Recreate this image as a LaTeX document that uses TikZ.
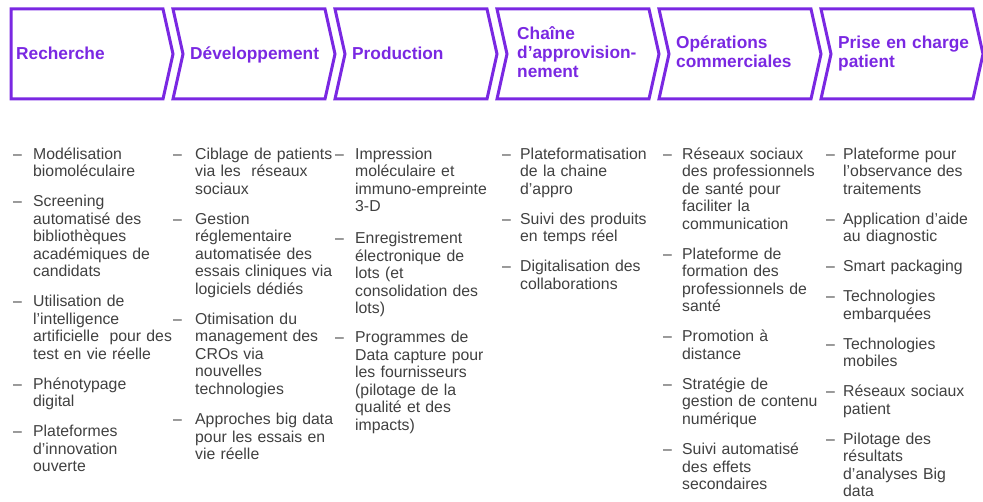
\documentclass[tikz,border=0pt]{standalone}
\usepackage{fontspec}
\setmainfont{Liberation Sans}
\definecolor{vio}{RGB}{122,40,226}
\definecolor{txt}{RGB}{64,64,64}
\tikzset{
 chev/.style={draw=vio, line width=3pt, line join=miter},
 head/.style={anchor=base west, inner sep=0pt, text width=150pt, align=left, text=vio, font=\fontsize{17.3}{19}\selectfont\bfseries},
 item/.style={anchor=base west, inner sep=0pt, text width=160pt, align=left, text=txt, font=\fontsize{15.8}{17.5}\selectfont},
 dashmark/.style={anchor=base west, inner sep=0pt, text=txt, font=\fontsize{15.8}{17.5}\selectfont},
}
\newcommand\itm[5]{\node[dashmark] (#1d) at ({#2-#4},#3) {–}; \node[item] (#1) at (#2,#3) {#5};}
\begin{document}
\begin{tikzpicture}[x=1pt,y=-1pt]
\useasboundingbox (0,0) rectangle (983,502);
% chevrons
\draw[chev] (11,9) -- (163,9) -- (173,54) -- (163,99) -- (11,99) -- cycle;
\foreach \x in {173,335,497,659,821}{
  \draw[chev] (\x,9) -- ({\x+152},9) -- ({\x+162},54) -- ({\x+152},99) -- (\x,99) -- ({\x+10},54) -- cycle;
}
% headers
\node[head] (h1) at (16,60) {Recherche};
\node[head] (h2) at (190,60) {Développement};
\node[head] (h3) at (352,60) {Production};
\node[head] (h4) at (517,40) {Chaîne\\d’approvision-\\nement};
\node[head] (h5) at (676,49) {Opérations\\commerciales};
\node[head] (h6) at (838,49) {Prise en charge\\patient};
% column 1
\itm{a1}{33}{159.5}{20}{Modélisation\\biomoléculaire}
\itm{a2}{33}{207}{20}{Screening\\automatisé des\\bibliothèques\\académiques de\\candidats}
\itm{a3}{33}{307}{20}{Utilisation de\\l’intelligence\\artificielle~ pour des\\test en vie réelle}
\itm{a4}{33}{389.5}{20}{Phénotypage\\digital}
\itm{a5}{33}{437}{20}{Plateformes\\d’innovation\\ouverte}
% column 2
\itm{b1}{195}{159.5}{22}{Ciblage de patients\\via les~ réseaux\\sociaux}
\itm{b2}{195}{224.5}{22}{Gestion\\réglementaire\\automatisée des\\essais cliniques via\\logiciels dédiés}
\itm{b3}{195}{324.5}{22}{Otimisation du\\management des\\CROs via\\nouvelles\\technologies}
\itm{b4}{195}{424.5}{22}{Approches big data\\pour les essais en\\vie réelle}
% column 3
\itm{c1}{355}{159.5}{20}{Impression\\moléculaire et\\immuno-empreinte\\3-D}
\itm{c2}{355}{244}{20}{Enregistrement\\électronique de\\lots (et\\consolidation des\\lots)}
\itm{c3}{355}{343}{20}{Programmes de\\Data capture pour\\les fournisseurs\\(pilotage de la\\qualité et des\\impacts)}
% column 4
\itm{d1}{520}{159.5}{18}{Plateformatisation\\de la chaine\\d’appro}
\itm{d2}{520}{224.5}{18}{Suivi des produits\\en temps réel}
\itm{d3}{520}{272}{18}{Digitalisation des\\collaborations}
% column 5
\itm{e1}{682}{159.5}{19}{Réseaux sociaux\\des professionnels\\de santé pour\\faciliter la\\communication}
\itm{e2}{682}{259.5}{19}{Plateforme de\\formation des\\professionnels de\\santé}
\itm{e3}{682}{342}{19}{Promotion à\\distance}
\itm{e4}{682}{389.5}{19}{Stratégie de\\gestion de contenu\\numérique}
\itm{e5}{682}{454.5}{19}{Suivi automatisé\\des effets\\secondaires}
% column 6
\itm{f1}{843}{159.5}{17}{Plateforme pour\\l’observance des\\traitements}
\itm{f2}{843}{224.5}{17}{Application d’aide\\au diagnostic}
\itm{f3}{843}{272}{17}{Smart packaging}
\itm{f4}{843}{302}{17}{Technologies\\embarquées}
\itm{f5}{843}{349.5}{17}{Technologies\\mobiles}
\itm{f6}{843}{397}{17}{Réseaux sociaux\\patient}
\itm{f7}{843}{444.5}{17}{Pilotage des\\résultats\\d’analyses Big\\data}
\end{tikzpicture}
\end{document}
